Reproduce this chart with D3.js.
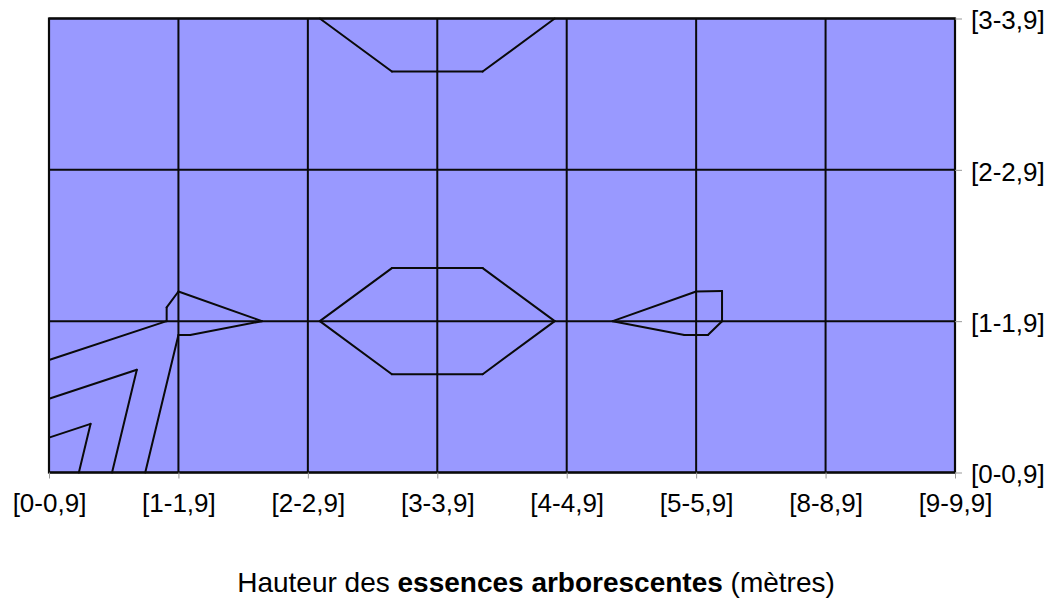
<!DOCTYPE html>
<html>
<head>
<meta charset="utf-8">
<script src="https://cdn.jsdelivr.net/npm/d3@7"></script>
<style>
  body { margin: 0; background: #fff; }
  svg { display: block; }
  text { font-family: "Liberation Sans", Arial, sans-serif; fill: #000; }
</style>
</head>
<body>
<div id="chart"></div>
<script>
// x categories (tree height classes) and y categories
const xCategories = ["[0-0,9]", "[1-1,9]", "[2-2,9]", "[3-3,9]", "[4-4,9]", "[5-5,9]", "[8-8,9]", "[9-9,9]"];
const yCategories = ["[0-0,9]", "[1-1,9]", "[2-2,9]", "[3-3,9]"];

// one series per y category, one value per x category
const series0 = [39, 0, 0, 0, 0, 0, 0, 0];
const series1 = [0, 11, 9.45, 15.4, 9.45, 11, 6, 0];
const series2 = [0, 5.9, 0, 0, 0, 5.9, 6, 0];
const series3 = [0, 0, 9.45, 15.4, 9.45, 0, 0, 0];

const contourLevels = [10, 20, 30];

const titleParts = [
  {text: "Hauteur des ", bold: false},
  {text: "essences arborescentes", bold: true},
  {text: " (mètres)", bold: false}
];

const width = 1050,
      height = 609,
      margin = {top: 18.5, right: 95, bottom: 136.5, left: 49};

const grid = [series0, series1, series2, series3];

const svg = d3.select("#chart").append("svg")
  .attr("width", width)
  .attr("height", height);

// category scales for the axes, linear ones for positions between categories
const xPoint = d3.scalePoint().domain(xCategories).range([margin.left, width - margin.right]);
const yPoint = d3.scalePoint().domain(yCategories).range([height - margin.bottom, margin.top]);
const x = d3.scaleLinear().domain([0, xCategories.length - 1]).range(xPoint.range());
const y = d3.scaleLinear().domain([0, yCategories.length - 1]).range(yPoint.range());

// plot area
svg.append("rect")
  .attr("x", x(0))
  .attr("y", y(yCategories.length - 1))
  .attr("width", x(xCategories.length - 1) - x(0))
  .attr("height", y(0) - y(yCategories.length - 1))
  .attr("fill", "#9999ff");

// grid lines
svg.append("g")
  .selectAll("line")
  .data(xCategories)
  .join("line")
    .attr("x1", d => xPoint(d))
    .attr("x2", d => xPoint(d))
    .attr("y1", y(0))
    .attr("y2", y(yCategories.length - 1))
    .attr("stroke", "#0a0a0a")
    .attr("stroke-width", 2);

svg.append("g")
  .selectAll("line")
  .data(yCategories)
  .join("line")
    .attr("x1", x(0))
    .attr("x2", x(xCategories.length - 1))
    .attr("y1", d => yPoint(d))
    .attr("y2", d => yPoint(d))
    .attr("stroke", "#0a0a0a")
    .attr("stroke-width", 2);

// Contours: every cell is cut in two triangles along the diagonal with the
// larger sum, and each level is interpolated linearly inside the triangles.
function crossings(tri, level) {
  let pts = [];
  for (let k = 0; k < 3; k++) {
    let a = tri[k], b = tri[(k + 1) % 3];
    if ((a[2] < level) != (b[2] < level)) {
      let t = (level - a[2]) / (b[2] - a[2]);
      pts.push([a[0] + t * (b[0] - a[0]), a[1] + t * (b[1] - a[1])]);
    }
  }
  return pts.length == 2 ? pts : null;
}

let segments = [];
for (let j = 0; j < yCategories.length - 1; j++) {
  for (let i = 0; i < xCategories.length - 1; i++) {
    let p00 = [i, j, grid[j][i]],
        p10 = [i + 1, j, grid[j][i + 1]],
        p01 = [i, j + 1, grid[j + 1][i]],
        p11 = [i + 1, j + 1, grid[j + 1][i + 1]];
    let tris = (p00[2] + p11[2] >= p10[2] + p01[2])
      ? [[p00, p10, p11], [p00, p11, p01]]
      : [[p00, p10, p01], [p10, p11, p01]];
    contourLevels.forEach(level => {
      tris.forEach(tri => {
        let seg = crossings(tri, level);
        if (seg) segments.push({level: level, points: seg});
      });
    });
  }
}

const line = d3.line()
  .x(d => x(d[0]))
  .y(d => y(d[1]));

svg.append("g")
  .selectAll("path")
  .data(segments)
  .join("path")
    .attr("d", d => line(d.points))
    .attr("fill", "none")
    .attr("stroke", "#0a0a0a")
    .attr("stroke-width", 2)
    .attr("stroke-linecap", "round");

// border
svg.append("rect")
  .attr("x", x(0))
  .attr("y", y(yCategories.length - 1))
  .attr("width", x(xCategories.length - 1) - x(0))
  .attr("height", y(0) - y(yCategories.length - 1))
  .attr("fill", "none")
  .attr("stroke", "#0a0a0a")
  .attr("stroke-width", 2.2);

// axes
const xAxis = svg.append("g")
  .attr("transform", "translate(0," + y(0) + ")")
  .call(d3.axisBottom(xPoint).tickSize(6).tickSizeOuter(0));
xAxis.select(".domain").remove();
xAxis.selectAll(".tick line").attr("stroke", "#999");
xAxis.selectAll(".tick text")
  .attr("y", 21)
  .attr("font-size", 26)
  .attr("font-family", null);

const yAxis = svg.append("g")
  .attr("transform", "translate(" + x(xCategories.length - 1) + ",0)")
  .call(d3.axisRight(yPoint).tickSize(7).tickSizeOuter(0));
yAxis.select(".domain").remove();
yAxis.selectAll(".tick line").attr("stroke", "#999");
yAxis.selectAll(".tick text")
  .attr("x", 16)
  .attr("y", 2)
  .attr("font-size", 26)
  .attr("font-family", null);

// axis title
const title = svg.append("text")
  .attr("x", 536)
  .attr("y", 592)
  .attr("text-anchor", "middle")
  .attr("font-size", 28);

title.selectAll("tspan")
  .data(titleParts)
  .join("tspan")
    .attr("font-weight", d => d.bold ? "bold" : null)
    .text(d => d.text);
</script>
</body>
</html>
